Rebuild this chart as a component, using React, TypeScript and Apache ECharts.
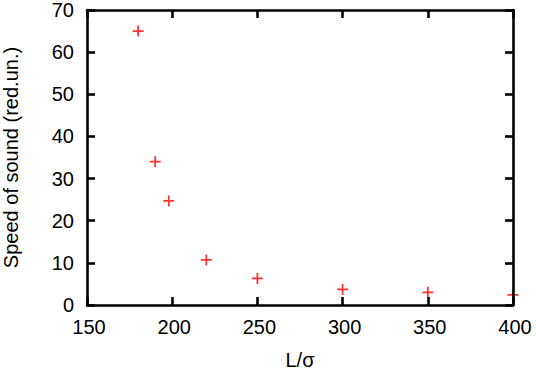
import React, { useEffect, useRef } from "react";
import * as echarts from "echarts";

const xValues = [180, 190, 198, 220, 250, 300, 350, 400];
const yValues = [65, 34, 24.7, 10.7, 6.3, 3.7, 3.0, 2.4];
const xAxisName = "L/σ";
const yAxisName = "Speed of sound (red.un.)";

const plus =
  "path://M4.2,0H5.8V4.2H10V5.8H5.8V10H4.2V5.8H0V4.2H4.2Z";

export default function App() {
  const ref = useRef<HTMLDivElement>(null);
  useEffect(() => {
    if (!ref.current) return;
    const chart = echarts.init(ref.current, undefined, { renderer: "svg" });
    const font = "Liberation Sans, Arial, sans-serif";
    const axisLine = { show: true, onZero: false, lineStyle: { color: "#000", width: 2.6 } };
    const axisTick = { show: true, inside: true, length: 8, lineStyle: { color: "#000", width: 2.6 } };
    const labelStyle = { color: "#000", fontSize: 20, fontFamily: font };
    chart.setOption({
      animation: false,
      backgroundColor: "#fff",
      grid: {
        left: 87,
        right: 23,
        top: 10,
        bottom: 65,
        containLabel: false,
        outerBoundsMode: "none",
      },
      xAxis: [
        {
          type: "value",
          min: 150,
          max: 400,
          interval: 50,
          position: "bottom",
          z: 5,
          name: xAxisName,
          nameLocation: "middle",
          nameGap: 46,
          nameTextStyle: { color: "#000", fontSize: 20, lineHeight: 18, fontFamily: font },
          axisLine,
          axisTick,
          splitLine: { show: false },
          axisLabel: { ...labelStyle, margin: 12, padding: [0, 0, 0, 4] },
        },
        {
          type: "value",
          min: 150,
          max: 400,
          interval: 50,
          position: "top",
          z: 5,
          axisLine,
          axisTick,
          splitLine: { show: false },
          axisLabel: { show: false },
        },
      ],
      yAxis: [
        {
          type: "value",
          min: 0,
          max: 70,
          interval: 10,
          position: "left",
          z: 5,
          name: yAxisName,
          nameLocation: "middle",
          nameGap: 66,
          nameTextStyle: { color: "#000", fontSize: 20, fontFamily: font },
          axisLine,
          axisTick,
          splitLine: { show: false },
          axisLabel: { ...labelStyle, margin: 13 },
        },
        {
          type: "value",
          min: 0,
          max: 70,
          interval: 10,
          position: "right",
          z: 5,
          axisLine,
          axisTick,
          splitLine: { show: false },
          axisLabel: { show: false },
        },
      ],
      series: [
        {
          type: "scatter",
          data: xValues.map((x, i) => [x, yValues[i]]),
          symbol: plus,
          symbolSize: 11,
          itemStyle: { color: "#ff0000" },
          clip: false,
          z: 2,
        },
      ],
    });
    return () => chart.dispose();
  }, []);
  return (
    <div
      ref={ref}
      style={{ position: "fixed", left: 0, top: 0, width: 536, height: 370 }}
    />
  );
}
